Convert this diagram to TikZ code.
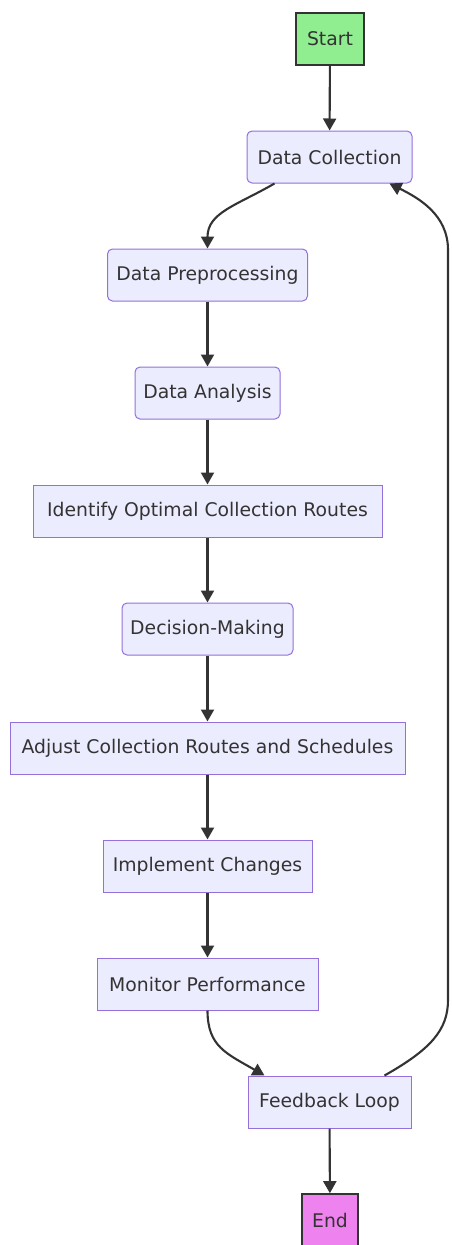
\documentclass[tikz,border=0pt]{standalone}
\usepackage{fontspec}
\setmainfont{DejaVu Sans}
\usetikzlibrary{arrows.meta,positioning}
\definecolor{boxfill}{HTML}{ECECFF}
\definecolor{boxline}{HTML}{9370DB}
\definecolor{ink}{HTML}{333333}
\definecolor{startfill}{HTML}{90EE90}
\definecolor{endfill}{HTML}{EE82EE}
\begin{document}
\begin{tikzpicture}[x=1pt,y=-1pt,
  base/.style={minimum height=52pt,inner sep=0pt,text=ink,font=\fontsize{18.8}{21}\selectfont},
  rbox/.style={base,draw=boxline,fill=boxfill,line width=1pt,rounded corners=5pt},
  sbox/.style={base,draw=boxline,fill=boxfill,line width=1pt},
  term/.style={base,draw=ink,line width=1.6pt},
  flow/.style={draw=ink,line width=2.1pt,-{Triangle[length=12pt,width=13pt]}}]
\useasboundingbox (0,0) rectangle (452,1245);
\node[term,fill=startfill,minimum width=68pt] (S) at (330,39) {Start};
\node[rbox,minimum width=165pt] (DC) at (329.5,157) {Data Collection};
\node[rbox,minimum width=200pt] (DP) at (207.5,275) {Data Preprocessing};
\node[rbox,minimum width=145pt] (DA) at (207.5,393) {Data Analysis};
\node[sbox,minimum width=349pt] (ID) at (207.5,511) {Identify Optimal Collection Routes};
\node[rbox,minimum width=171pt] (DM) at (207.5,629) {Decision-Making};
\node[sbox,minimum width=395pt] (AD) at (207.5,748) {Adjust Collection Routes and Schedules};
\node[sbox,minimum width=209pt] (IM) at (207.5,866) {Implement Changes};
\node[sbox,minimum width=221pt] (MP) at (207.5,984) {Monitor Performance};
\node[sbox,minimum width=163pt] (FL) at (329.5,1102) {Feedback Loop};
\node[term,fill=endfill,minimum width=56pt] (E) at (330,1220) {End};
\draw[flow] (S) -- (DC);
\draw[flow] ([xshift=28pt]DC.south west) .. controls +(-38,22) and +(0,-36) .. (DP.north);
\draw[flow] (DP) -- (DA);
\draw[flow] (DA) -- (ID);
\draw[flow] (ID) -- (DM);
\draw[flow] (DM) -- (AD);
\draw[flow] (AD) -- (IM);
\draw[flow] (IM) -- (MP);
\draw[flow] (MP.south) .. controls +(0,36) and +(-38,-22) .. ([xshift=17pt]FL.north west);
\draw[flow] (FL) -- (E);
\coordinate (RB) at (448,1000);
\coordinate (RT) at (448,250);
\draw[flow] ([xshift=55pt]FL.north) .. controls +(46,-26) and +(0,30) .. (RB) -- (RT) .. controls +(0,-35) and +(30,15) .. ([xshift=60pt]DC.south);
\end{tikzpicture}
\end{document}
